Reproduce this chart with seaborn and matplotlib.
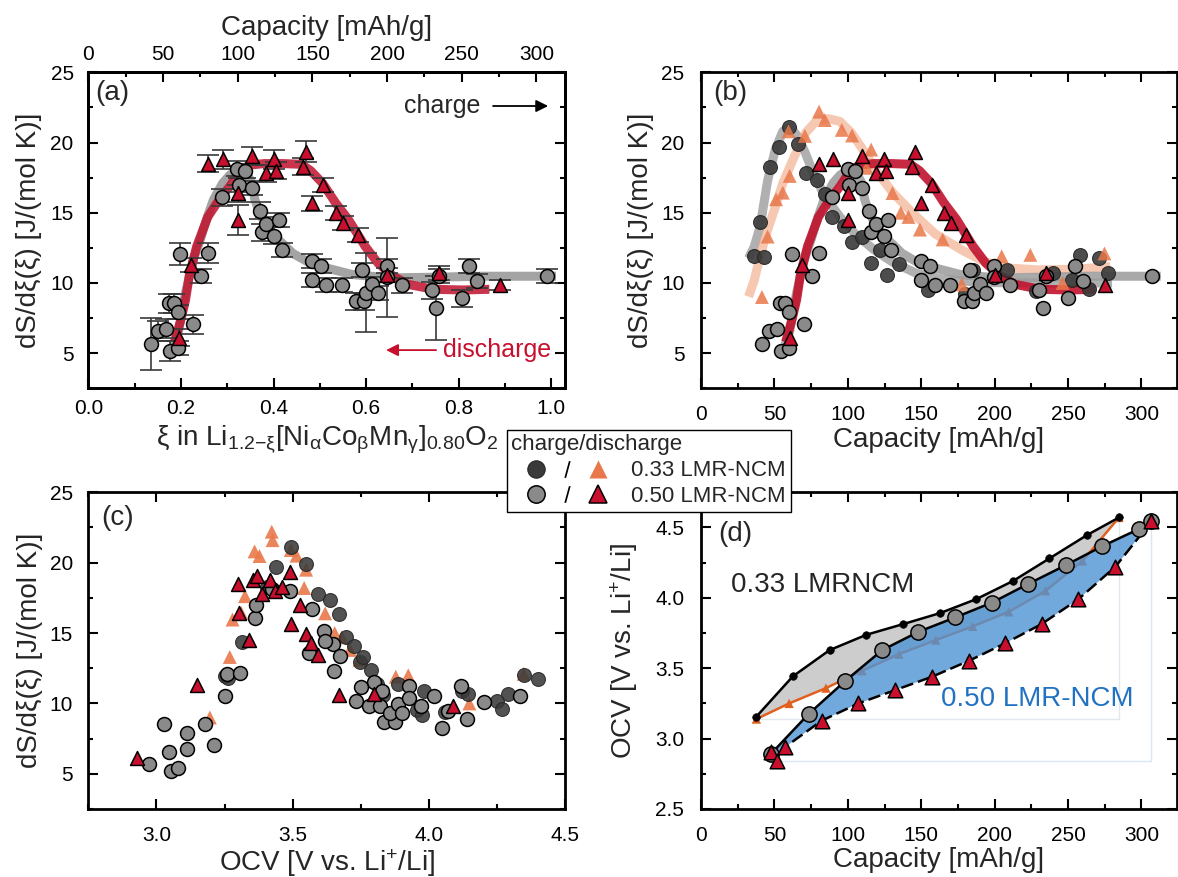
import numpy as np
import matplotlib
matplotlib.use("Agg")
import matplotlib.pyplot as plt
import seaborn as sns
from matplotlib.lines import Line2D
from matplotlib.legend_handler import HandlerTuple
from matplotlib.ticker import MultipleLocator

sns.set_theme(style="ticks")
plt.rcParams["font.family"] = ["Liberation Sans", "DejaVu Sans"]
plt.rcParams.update({
    "mathtext.fontset": "custom",
    "mathtext.rm": "Liberation Sans",
    "mathtext.it": "Liberation Sans:italic",
    "mathtext.bf": "Liberation Sans:bold",
    "mathtext.sf": "Liberation Sans",
    "axes.edgecolor": "black",
    "xtick.color": "black",
    "ytick.color": "black",
})

# capacity [mAh/g] per unit of xi
CAP_PER_XI = 310.0
XI_MAX = 1.03

# ---------------- 0.50 LMR-NCM: charge (circles) ----------------
xi50_chg = [0.135, 0.150, 0.168, 0.174, 0.176, 0.184, 0.194, 0.194, 0.199, 0.226,
            0.244, 0.259, 0.288, 0.322, 0.326, 0.338, 0.354, 0.370, 0.374, 0.384,
            0.402, 0.411, 0.418, 0.484, 0.484, 0.503, 0.514, 0.547, 0.578, 0.591,
            0.595, 0.599, 0.612, 0.626, 0.644, 0.644, 0.678, 0.742, 0.751, 0.758,
            0.806, 0.822, 0.839, 0.990]
ds50_chg = [5.68, 6.58, 6.75, 8.54, 5.17, 8.54, 5.40, 7.93, 12.08, 7.05,
            10.53, 12.13, 16.10, 18.15, 16.97, 17.96, 16.74, 15.15, 13.60, 14.20,
            13.36, 14.45, 12.32, 11.54, 10.20, 11.19, 9.84, 9.84, 8.70, 10.90,
            8.70, 9.30, 9.96, 9.30, 11.23, 10.40, 9.82, 9.49, 8.23, 10.53,
            8.90, 11.23, 10.12, 10.53]
err50_chg = [1.85, 0.7, 0.7, 0.65, 0.7, 0.7, 0.5, 0.5, 0.8, 0.7,
             0.5, 0.7, 0.6, 0.5, 0.5, 0.5, 0.5, 0.6, 0.6, 0.5,
             0.6, 0.5, 0.5, 0.5, 0.5, 0.5, 0.5, 0.5, 0.6, 0.5,
             0.6, 2.8, 0.5, 0.5, 0.5, 2.8, 0.5, 0.6, 2.3, 0.5,
             0.6, 0.5, 0.5, 0.5]
ocv50_chg_pts = [2.971, 3.045, 3.111, 3.027, 3.055, 3.178, 3.080, 3.111, 3.258, 3.210,
                 3.252, 3.308, 3.360, 3.423, 3.364, 3.490, 3.570, 3.616, 3.560, 3.647,
                 3.672, 3.619, 3.650, 3.800, 3.731, 3.752, 3.780, 3.822, 3.836, 3.829,
                 3.874, 3.857, 3.885, 3.902, 3.927, 3.927, 3.969, 4.071, 4.046, 4.018,
                 4.140, 4.116, 4.200, 4.333]

# ---------------- 0.50 LMR-NCM: discharge (triangles) ----------------
xi50_dis = [0.196, 0.222, 0.259, 0.291, 0.323, 0.323, 0.354, 0.384, 0.402, 0.406,
            0.464, 0.470, 0.484, 0.507, 0.534, 0.550, 0.582, 0.646, 0.758, 0.888]
ds50_dis = [6.11, 11.30, 18.50, 18.80, 16.40, 14.50, 19.05, 17.80, 18.80, 18.00,
            18.27, 19.33, 15.67, 16.97, 14.96, 14.30, 13.43, 10.60, 10.70, 9.84]
err50_dis = [0.6, 0.5, 0.6, 0.65, 0.6, 1.05, 0.65, 0.6, 0.7, 0.6,
             0.6, 0.75, 0.55, 0.5, 0.5, 0.5, 0.5, 0.5, 0.5, 0.35]
ocv50_dis_pts = [2.929, 3.150, 3.300, 3.353, 3.304, 3.339, 3.370, 3.388, 3.416, 3.434,
                 3.460, 3.490, 3.493, 3.528, 3.549, 3.566, 3.594, 3.668, 3.798, 4.088]

# ---------------- 0.33 LMR-NCM: charge (dark circles) ----------------
cap33_chg = [36.3, 40.2, 42.8, 46.7, 53.2, 59.6, 66.1, 71.3, 79.1, 84.3,
             89.4, 97.2, 102.9, 109.7, 115.9, 121.9, 127.0, 134.8, 154.3, 180.0,
             185.4, 208.7, 228.0, 239.8, 252.8, 258.0, 264.4, 270.9, 277.4]
ds33_chg = [11.93, 14.37, 11.83, 18.24, 19.66, 21.09, 19.90, 17.80, 17.34, 16.34,
            14.73, 14.06, 12.95, 13.30, 11.40, 12.35, 10.57, 11.36, 9.50, 9.20,
            10.90, 10.90, 9.40, 10.70, 10.20, 12.00, 9.60, 11.76, 10.70]
ocv33_chg_pts = [3.252, 3.314, 3.262, 3.405, 3.437, 3.493, 3.549, 3.594, 3.636, 3.668,
                 3.696, 3.724, 3.745, 3.759, 3.808, 3.787, 3.830, 3.885, 3.955, 3.975,
                 3.983, 4.120, 4.060, 4.144, 4.249, 4.347, 4.266, 4.400, 4.291]

# ---------------- 0.33 LMR-NCM: discharge (orange triangles) ----------------
cap33_dis = [41.5, 45.4, 51.1, 55.7, 59.6, 60.4, 70.8, 80.4, 84.3, 95.9,
             102.9, 112.8, 115.9, 130.4, 136.1, 141.3, 149.1, 164.6, 177.6, 204.8,
             224.3, 246.3, 274.8]
ds33_dis = [9.00, 13.30, 15.96, 16.43, 20.80, 17.62, 20.47, 22.20, 21.60, 20.90,
            20.50, 18.20, 19.50, 16.40, 15.00, 14.70, 13.80, 13.10, 9.90, 11.90,
            12.00, 10.00, 12.10]
ocv33_dis_pts = [3.196, 3.269, 3.279, 3.311, 3.360, 3.325, 3.378, 3.423, 3.426, 3.493,
                 3.514, 3.542, 3.549, 3.619, 3.654, 3.680, 3.710, 3.745, 3.800, 3.878,
                 3.924, 4.148, 4.347]

# ---------------- smoothed dS/dxi curves ----------------
fit50_chg_xi = [0.185, 0.195, 0.21, 0.226, 0.242, 0.256, 0.27, 0.29, 0.306, 0.322,
                0.342, 0.352, 0.36, 0.37, 0.386, 0.41, 0.442, 0.474, 0.514, 0.57,
                0.65, 0.73, 0.85, 1.01]
fit50_chg_ds = [5.6, 6.6, 9.3, 11.6, 13.1, 14.6, 15.9, 17.1, 17.7, 17.95,
                17.8, 17.2, 15.9, 14.96, 14.0, 13.1, 12.1, 11.5, 11.07, 10.6,
                10.36, 10.4, 10.48, 10.48]
fit50_dis_xi = [0.186, 0.20, 0.21, 0.218, 0.234, 0.258, 0.282, 0.306, 0.33, 0.35,
                0.38, 0.42, 0.46, 0.48, 0.506, 0.534, 0.562, 0.598, 0.626, 0.658,
                0.69, 0.746, 0.81, 0.866]
fit50_dis_ds = [5.8, 7.4, 8.8, 10.5, 12.6, 14.7, 15.9, 16.9, 18.1, 18.4,
                18.5, 18.5, 18.45, 18.0, 17.1, 15.7, 14.5, 12.6, 11.4, 10.5,
                9.9, 9.55, 9.5, 9.55]
fit33_chg_cap = [32.4, 36.3, 40.2, 45.4, 50.6, 55.7, 60.9, 66.1, 71.3, 76.5,
                 84.3, 94.6, 105.0, 118.0, 131.0, 146.5, 164.6, 190.6, 229.0, 280.0]
fit33_chg_ds = [11.76, 12.6, 14.0, 17.3, 19.5, 20.8, 21.1, 20.4, 19.2, 17.8,
                16.2, 14.7, 13.5, 12.35, 11.45, 10.7, 10.27, 10.03, 10.0, 10.0]
fit33_dis_cap = [32.4, 36.3, 40.2, 45.4, 50.6, 55.7, 63.5, 71.3, 79.1, 86.9,
                 94.6, 102.4, 110.2, 120.6, 130.9, 143.9, 159.4, 177.6, 193.2, 211.3,
                 229.4, 255.4, 278.7]
fit33_dis_ds = [9.03, 10.2, 11.9, 13.8, 15.4, 17.1, 19.0, 20.7, 21.6, 21.7,
                21.5, 20.7, 19.5, 17.8, 16.4, 15.0, 13.5, 12.35, 11.5, 11.05,
                10.93, 10.98, 11.17]

# ---------------- OCV curves ----------------
ocvcap33_chg = [37.7, 62.5, 87.6, 112.7, 137.8, 162.9, 187.5, 212.7, 237.3, 262.9, 284.7]
ocv33_chg = [3.156, 3.442, 3.629, 3.738, 3.814, 3.892, 3.991, 4.121, 4.280, 4.446, 4.571]
ocvcap33_dis = [37.7, 60.0, 85.1, 109.7, 134.8, 159.9, 185.0, 209.6, 234.7, 259.9, 284.7]
ocv33_dis = [3.139, 3.250, 3.359, 3.482, 3.600, 3.700, 3.797, 3.901, 4.050, 4.263, 4.571]
ocvcap50_chg = [47.5, 73.3, 98.4, 123.5, 148.1, 173.2, 198.3, 222.7, 248.6, 272.9, 298.0, 306.8]
ocv50_chg = [2.890, 3.175, 3.411, 3.629, 3.759, 3.861, 3.967, 4.098, 4.233, 4.365, 4.488, 4.543]
ocvcap50_dis = [47.7, 51.5, 57.0, 82.1, 107.2, 132.3, 157.4, 182.5, 206.9, 232.0, 257.1, 282.2, 306.8]
ocv50_dis = [2.902, 2.843, 2.938, 3.127, 3.250, 3.345, 3.440, 3.553, 3.676, 3.814, 3.991, 4.221, 4.543]

# ---------------- styles ----------------
DARK = "#3a3a3a"
LIGHT = "#8a8a8a"
ORANGE = "#e8784a"
RED = "#c8102e"
BLUE_TXT = "#2272c3"
MS = 100         # scatter marker area (pt^2)
EW = 1.1         # marker edge width
LABEL_FS = 20
TICK_FS = 15
YLAB = "dS/dξ(ξ) [J/(mol K)]"

W, H = 1178, 877
fig = plt.figure(figsize=(W / 100, H / 100), dpi=100)


def frac(left, top, right, bottom):
    return [left / W, 1 - bottom / H, (right - left) / W, (bottom - top) / H]


ax_a = fig.add_axes(frac(88.3, 72.3, 565.3, 388.3))
ax_b = fig.add_axes(frac(701.0, 72.3, 1176.7, 388.3))
ax_c = fig.add_axes(frac(88.3, 492.3, 565.3, 809.0))
ax_d = fig.add_axes(frac(701.0, 492.3, 1176.7, 809.0))


def style(ax, xmaj, xmin, ymaj, ymin, xpad=11, ypad=11, top=True):
    ax.set_facecolor("white")
    ax.xaxis.set_major_locator(MultipleLocator(xmaj))
    ax.xaxis.set_minor_locator(MultipleLocator(xmin))
    ax.yaxis.set_major_locator(MultipleLocator(ymaj))
    ax.yaxis.set_minor_locator(MultipleLocator(ymin))
    ax.tick_params(which="both", direction="in", top=top, right=True,
                   labelsize=TICK_FS, width=1.5)
    ax.tick_params(which="major", length=7)
    ax.tick_params(which="minor", length=3.5)
    ax.tick_params(axis="x", pad=xpad)
    ax.tick_params(axis="y", pad=ypad)
    for sp in ax.spines.values():
        sp.set_visible(True)
        sp.set_linewidth(2.0)
        sp.set_color("black")
    ax.grid(False)


def scatter(ax, x, y, kind, z=4, alpha=1.0):
    if kind == "dark":
        kw = dict(marker="o", color=DARK, edgecolor="#262626", linewidth=0.8)
    elif kind == "light":
        kw = dict(marker="o", color=LIGHT, edgecolor="black", linewidth=EW)
    elif kind == "orange":
        kw = dict(marker="^", color=ORANGE, edgecolor="none", linewidth=0)
    else:
        kw = dict(marker="^", color=RED, edgecolor="black", linewidth=EW)
    sns.scatterplot(x=np.asarray(x), y=np.asarray(y), ax=ax, s=MS, zorder=z,
                    alpha=alpha, legend=False, **kw)


def curve(ax, x, y, color, lw=6, alpha=1.0, z=2, **kw):
    sns.lineplot(x=np.asarray(x), y=np.asarray(y), ax=ax, color=color, lw=lw,
                 alpha=alpha, zorder=z, sort=False, estimator=None, legend=False,
                 solid_capstyle="butt", **kw)


xi50c = np.asarray(xi50_chg)
xi50d = np.asarray(xi50_dis)

# ---------------- (a) dS/dxi vs xi, 0.50 LMR-NCM ----------------
curve(ax_a, fit50_chg_xi, fit50_chg_ds, "#9a9a9a", lw=6.5, alpha=0.9, z=2)
curve(ax_a, fit50_dis_xi, fit50_dis_ds, "#c0122c", lw=6.5, alpha=0.85, z=3)
ax_a.errorbar(xi50c, ds50_chg, yerr=err50_chg, fmt="none", ecolor="#3a3a3a",
              elinewidth=1.2, capsize=8, capthick=1.2, zorder=3.5)
ax_a.errorbar(xi50d, ds50_dis, yerr=err50_dis, fmt="none", ecolor="#3a3a3a",
              elinewidth=1.2, capsize=8, capthick=1.2, zorder=3.5)
scatter(ax_a, xi50c, ds50_chg, "light", z=4)
scatter(ax_a, xi50d, ds50_dis, "red", z=5)
ax_a.set_xlim(0, XI_MAX)
ax_a.set_ylim(2.5, 25)
style(ax_a, 0.2, 0.1, 5, 2.5, xpad=8, ypad=10.5, top=False)
ax_a.set_xlabel(r"ξ in Li$_{\mathregular{1.2{-}ξ}}$[Ni$_{\mathregular{α}}$Co$_{\mathregular{β}}$"
                r"Mn$_{\mathregular{γ}}$]$_{\mathregular{0.80}}$O$_{\mathregular{2}}$",
                fontsize=LABEL_FS, labelpad=4)
ax_a.set_ylabel(YLAB, fontsize=LABEL_FS, labelpad=6)
ax_a.text(0.014, 0.975, "(a)", transform=ax_a.transAxes, fontsize=LABEL_FS,
          ha="left", va="top")
ax_a.annotate("", xy=(0.993, 22.6), xytext=(0.874, 22.6),
              arrowprops=dict(arrowstyle="-|>", color="black", lw=1.3,
                              mutation_scale=18, shrinkA=0, shrinkB=0))
ax_a.text(0.846, 22.6, "charge", fontsize=18, ha="right", va="center")
ax_a.annotate("", xy=(0.643, 5.22), xytext=(0.751, 5.22),
              arrowprops=dict(arrowstyle="-|>", color=RED, lw=1.3,
                              mutation_scale=18, shrinkA=0, shrinkB=0))
ax_a.text(0.766, 5.22, "discharge", fontsize=18, color=RED, ha="left", va="center")

ax_top = ax_a.twiny()
ax_top.set_xlim(0, XI_MAX * CAP_PER_XI)
ax_top.xaxis.set_major_locator(MultipleLocator(50))
ax_top.xaxis.set_minor_locator(MultipleLocator(25))
ax_top.tick_params(which="both", direction="in", top=True, bottom=False,
                   labelsize=TICK_FS, width=1.5, pad=6)
ax_top.tick_params(which="major", length=7)
ax_top.tick_params(which="minor", length=3.5)
for sp in ax_top.spines.values():
    sp.set_linewidth(2.0)
    sp.set_color("black")
ax_top.grid(False)
ax_top.set_xlabel("Capacity [mAh/g]", fontsize=LABEL_FS, labelpad=7)

# ---------------- (b) dS/dxi vs capacity ----------------
curve(ax_b, fit33_chg_cap, fit33_chg_ds, "#7c7c7c", lw=6.5, alpha=0.6, z=2)
curve(ax_b, fit33_dis_cap, fit33_dis_ds, "#f2a988", lw=6.5, alpha=0.65, z=2)
curve(ax_b, np.asarray(fit50_chg_xi) * CAP_PER_XI, fit50_chg_ds, "#9a9a9a",
      lw=6.5, alpha=0.85, z=2.2)
curve(ax_b, np.asarray(fit50_dis_xi) * CAP_PER_XI, fit50_dis_ds, "#c0122c",
      lw=6.5, alpha=0.9, z=2.3)
scatter(ax_b, cap33_chg, ds33_chg, "dark", z=3, alpha=0.9)
scatter(ax_b, cap33_dis, ds33_dis, "orange", z=3.2, alpha=0.85)
scatter(ax_b, xi50c * CAP_PER_XI, ds50_chg, "light", z=4)
scatter(ax_b, xi50d * CAP_PER_XI, ds50_dis, "red", z=5)
ax_b.set_xlim(0, 324)
ax_b.set_ylim(2.5, 25)
style(ax_b, 50, 25, 5, 2.5, xpad=12, ypad=12)
ax_b.set_xlabel("Capacity [mAh/g]", fontsize=LABEL_FS, labelpad=2)
ax_b.set_ylabel(YLAB, fontsize=LABEL_FS, labelpad=5)
ax_b.text(0.025, 0.975, "(b)", transform=ax_b.transAxes, fontsize=LABEL_FS,
          ha="left", va="top")

# ---------------- (c) dS/dxi vs OCV ----------------
scatter(ax_c, ocv33_dis_pts, ds33_dis, "orange", z=3, alpha=0.9)
scatter(ax_c, ocv33_chg_pts, ds33_chg, "dark", z=3.5, alpha=0.88)
scatter(ax_c, ocv50_chg_pts, ds50_chg, "light", z=4)
scatter(ax_c, ocv50_dis_pts, ds50_dis, "red", z=5)
ax_c.set_xlim(2.75, 4.5)
ax_c.set_ylim(2.5, 25)
style(ax_c, 0.5, 0.25, 5, 2.5, xpad=12, ypad=11)
ax_c.set_xlabel("OCV [V vs. Li$^{+}$/Li]", fontsize=LABEL_FS, labelpad=2)
ax_c.set_ylabel(YLAB, fontsize=LABEL_FS, labelpad=5)
ax_c.text(0.028, 0.96, "(c)", transform=ax_c.transAxes, fontsize=LABEL_FS,
          ha="left", va="top")

# ---------------- (d) OCV vs capacity ----------------
loop33_x = list(ocvcap33_chg) + list(ocvcap33_dis[::-1])
loop33_y = list(ocv33_chg) + list(ocv33_dis[::-1])
loop50_x = list(ocvcap50_chg) + list(ocvcap50_dis[::-1])
loop50_y = list(ocv50_chg) + list(ocv50_dis[::-1])
ax_d.fill(loop33_x, loop33_y, color="#cdcdcd", lw=0, zorder=1)
# faint frames spanned by each hysteresis loop
ax_d.plot([ocvcap33_dis[0], ocvcap33_dis[-1], ocvcap33_dis[-1]],
          [min(ocv33_dis), min(ocv33_dis), ocv33_dis[-1]],
          color="#e3e8ee", lw=1.0, zorder=0.8)
ax_d.plot([ocvcap50_dis[1], ocvcap50_dis[-1], ocvcap50_dis[-1]],
          [min(ocv50_dis), min(ocv50_dis), ocv50_dis[-1]],
          color="#dbe8f3", lw=1.0, zorder=0.8)
curve(ax_d, ocvcap33_dis, ocv33_dis, "#e0601f", lw=1.8, z=2)
sns.scatterplot(x=ocvcap33_dis, y=ocv33_dis, ax=ax_d, marker="^", s=45,
                color="#e0601f", edgecolor="none", zorder=2.1, legend=False)
ax_d.fill(loop50_x, loop50_y, color="#4f94d4", alpha=0.8, lw=0, zorder=3)
curve(ax_d, ocvcap33_chg, ocv33_chg, "black", lw=1.8, z=4)
sns.scatterplot(x=ocvcap33_chg, y=ocv33_chg, ax=ax_d, marker="o", s=30,
                color="black", edgecolor="black", zorder=4.1, legend=False)
curve(ax_d, ocvcap50_chg, ocv50_chg, "black", lw=1.8, z=5)
curve(ax_d, ocvcap50_dis, ocv50_dis, "black", lw=1.8, z=5, linestyle=(0, (5, 2)))
sns.scatterplot(x=ocvcap50_chg, y=ocv50_chg, ax=ax_d, marker="o", s=120,
                color=LIGHT, edgecolor="black", linewidth=EW, zorder=5.5, legend=False)
sns.scatterplot(x=ocvcap50_dis, y=ocv50_dis, ax=ax_d, marker="^", s=110,
                color=RED, edgecolor="black", linewidth=EW, zorder=6, legend=False)
ax_d.set_xlim(0, 324)
ax_d.set_ylim(2.5, 4.75)
style(ax_d, 50, 25, 0.5, 0.25, xpad=12, ypad=12)
ax_d.set_xlabel("Capacity [mAh/g]", fontsize=LABEL_FS, labelpad=2)
ax_d.set_ylabel("OCV [V vs. Li$^{+}$/Li]", fontsize=LABEL_FS, labelpad=11)
ax_d.text(0.036, 0.91, "(d)", transform=ax_d.transAxes, fontsize=LABEL_FS,
          ha="left", va="top")
ax_d.text(20.5, 4.09, "0.33 LMRNCM", fontsize=LABEL_FS, ha="left", va="center",
          zorder=7)
ax_d.text(163.6, 3.28, "0.50 LMR-NCM", fontsize=LABEL_FS, color=BLUE_TXT,
          ha="left", va="center", zorder=7)

# ---------------- shared legend ----------------
h_dark = Line2D([], [], ls="none", marker="o", ms=12.5, mfc=DARK, mec="#262626", mew=0.8)
h_light = Line2D([], [], ls="none", marker="o", ms=12.5, mfc=LIGHT, mec="black", mew=EW)
h_or = Line2D([], [], ls="none", marker="^", ms=13, mfc=ORANGE, mec="none")
h_red = Line2D([], [], ls="none", marker="^", ms=13, mfc=RED, mec="black", mew=EW)
h_sl = Line2D([], [], ls="none", marker="$/$", ms=12, color="black", mew=0)
leg = fig.legend(handles=[(h_dark, h_sl, h_or), (h_light, h_sl, h_red)],
                 labels=["0.33 LMR-NCM", "0.50 LMR-NCM"],
                 handler_map={tuple: HandlerTuple(ndivide=None, pad=-0.85)},
                 title="charge/discharge", loc="upper left",
                 bbox_to_anchor=(507 / W, 1 - 430 / H), bbox_transform=fig.transFigure,
                 borderaxespad=0, frameon=True, fancybox=False, edgecolor="black",
                 framealpha=1, facecolor="white", fontsize=16, title_fontsize=16,
                 handlelength=5.0, handletextpad=0.4, borderpad=0.2,
                 labelspacing=0.22, numpoints=1, alignment="left")
leg.get_frame().set_linewidth(1.0)

fig.savefig("out.png", dpi=100, facecolor="white")
